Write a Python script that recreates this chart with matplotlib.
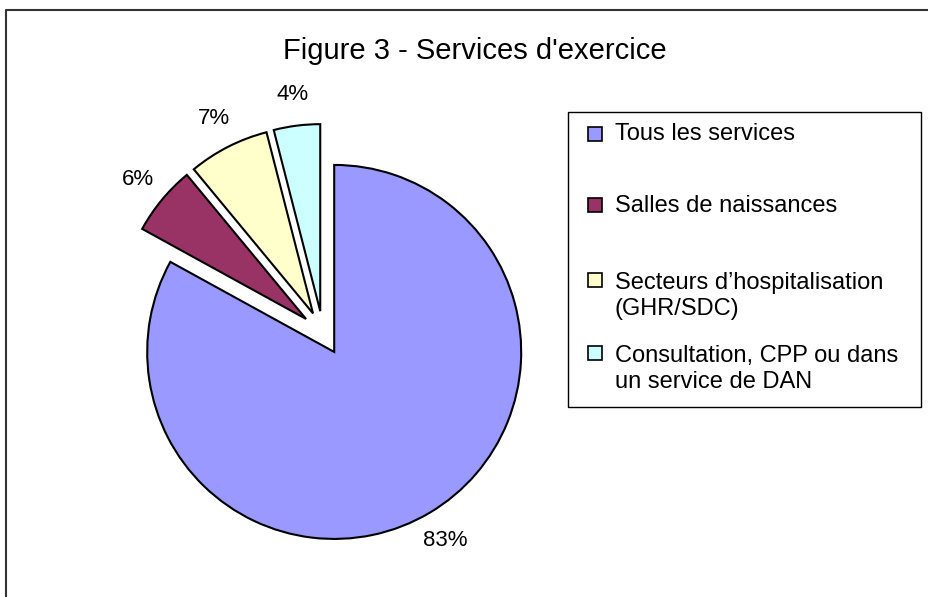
import matplotlib
matplotlib.use("Agg")
import matplotlib.pyplot as plt
from matplotlib.lines import Line2D
from matplotlib.patches import Rectangle

plt.rcParams['font.family'] = ['Liberation Sans', 'DejaVu Sans']

categories = ["Tous les services", "Salles de naissances",
              "Secteurs d\u2019hospitalisation\n(GHR/SDC)",
              "Consultation, CPP ou dans\nun service de DAN"]
values = [83, 6, 7, 4]
colors = ["#9999FF", "#993366", "#FFFFCC", "#CCFFFF"]
title = "Figure 3 - Services d'exercice"

W, H = 929, 597
fig = plt.figure(figsize=(W / 100, H / 100), dpi=100)
ax = fig.add_axes([0, 0, 1, 1])

wedges, texts, autotexts = ax.pie(
    values, colors=colors, startangle=90, counterclock=False,
    explode=[22] * 4, center=(323, H - 333), radius=187,
    autopct='%1.0f%%', pctdistance=1.17,
    wedgeprops=dict(edgecolor='black', linewidth=1.5),
    textprops=dict(fontsize=16, color='black'))
ax.set_xlim(0, W)
ax.set_ylim(0, H)
ax.set_aspect('auto')
ax.axis('off')

ax.text(475, H - 59, title, ha='center', va='baseline', fontsize=21)

# legend (laid out to match the reference box)
leg_box = (568, 112, 921, 407)  # left, top, right, bottom in px
ax.add_patch(Rectangle((leg_box[0], H - leg_box[3]), leg_box[2] - leg_box[0],
                       leg_box[3] - leg_box[1], facecolor='white',
                       edgecolor='black', linewidth=1.0, zorder=3))
marker_centers = [134, 205, 280, 353]
first_baselines = [140, 212, 286, 359]
line_step = 29
for cat, col, mc, bl in zip(categories, colors, marker_centers, first_baselines):
    ax.add_patch(Rectangle((588, H - mc - 7), 14, 14, facecolor=col,
                           edgecolor='black', linewidth=1.2, zorder=4))
    last_bl = bl + line_step * cat.count("\n")
    ax.text(615, H - last_bl, cat, ha='left', va='baseline', fontsize=17,
            linespacing=1.23, zorder=4)

# outer chart border
ax.add_line(Line2D([6, 6, W], [0, H - 10, H - 10], color='#333333',
                   linewidth=1.5))

fig.savefig("out.png", dpi=100)
